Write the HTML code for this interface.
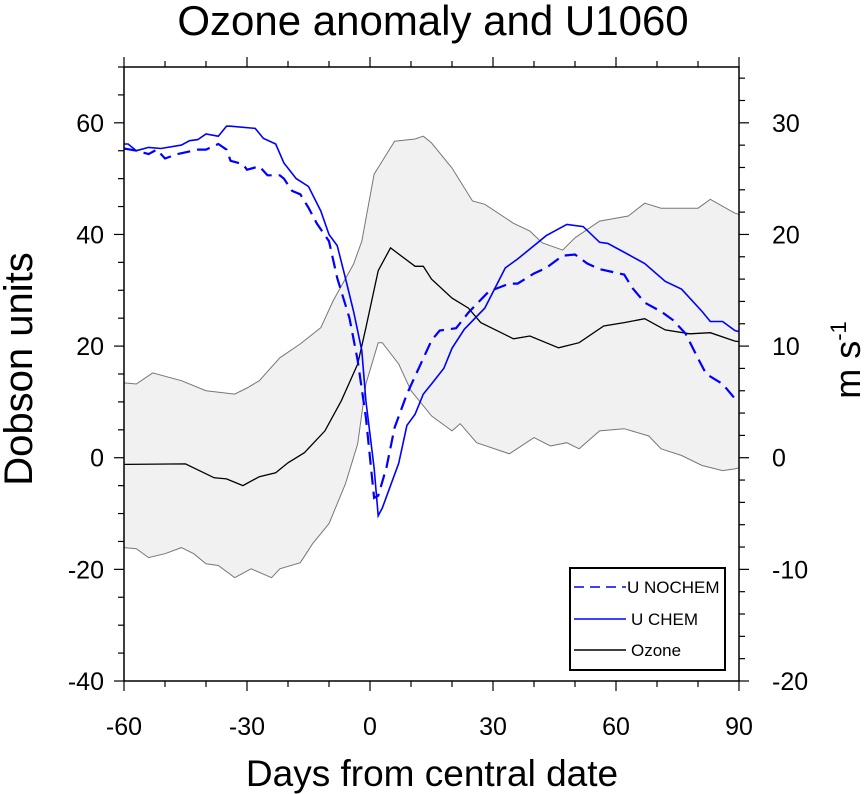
<!DOCTYPE html>
<html><head><meta charset="utf-8">
<style>
html,body{margin:0;padding:0;background:#fff;}
svg{display:block;font-family:"Liberation Sans",Arial,sans-serif;}
</style></head>
<body>
<svg id="chart" width="865" height="794" viewBox="0 0 865 794" xmlns="http://www.w3.org/2000/svg">
<text x="433" y="35" font-size="42" text-anchor="middle">Ozone anomaly and U1060</text>
<text x="432" y="786" font-size="37" text-anchor="middle">Days from central date</text>
<text transform="translate(32,369) rotate(-90)" font-size="40" text-anchor="middle">Dobson units</text>
<text transform="translate(860,360) rotate(-90)" font-size="36" text-anchor="middle">m s<tspan font-size="22" dy="-14">-1</tspan></text>
<g id="plot"></g>
</svg>
<script>
const ozoneDays=[-60,-45,-38,-35,-31,-27,-23,-20,-16,-11,-7,-3,-1,2,5,11,13,15,20,24,27,35,39,46,51,57,62,67,72,78,83,89,90];
const ozoneVals=[-1.2,-1.1,-3.6,-3.8,-5.0,-3.4,-2.7,-0.9,0.9,4.8,10.2,16.8,23.3,33.5,37.6,34.3,34.3,32.0,28.6,26.8,24.2,21.3,21.8,19.7,20.6,23.6,24.2,24.9,22.9,22.2,22.4,20.9,20.8];
const upperDays=[-60,-57,-53,-46,-40,-33,-30,-27,-22,-17,-12,-9,-4,-2,1,6,11,13,15,20,25,28,35,39,42,47,50,56,63,67,71,76,80,83,89,90];
const upperVals=[13.4,13.2,15.2,13.8,12.0,11.4,12.5,13.8,17.9,20.4,23.3,28.1,34.7,38.8,50.8,56.7,57.1,57.6,56.4,51.9,46.0,45.4,42.0,40.6,38.5,37.2,39.4,42.4,43.3,45.6,44.7,44.7,44.7,46.3,43.8,43.6];
const lowerDays=[-60,-57,-54,-50,-46,-43,-40,-37,-33,-29,-24,-22,-17,-14,-10,-6,-3,-1,2,3,7,10,14,15,20,22,26,34,40,44,48,51,56,62,68,71,76,81,86,89,90];
const lowerVals=[-16.1,-16.3,-17.9,-17.2,-16.1,-17.2,-19.0,-19.3,-21.5,-19.9,-21.5,-19.9,-18.8,-15.4,-11.8,-4.7,2.5,13.2,20.6,20.6,16.8,12.0,8.4,7.5,4.8,6.1,2.7,0.7,3.6,2.1,2.7,1.6,4.8,5.2,3.9,1.6,0.4,-1.4,-2.3,-2.0,-1.8];
const chemDays=[-60,-59,-57,-54,-51,-46,-44,-42,-40,-37,-35,-34,-28,-26,-23,-21,-18,-15,-12,-10,-8,-6,-4,-2,-1,1,2,3,7,9,11,13,15,18,20,23,28,33,36,39,43,48,52,56,58,63,67,72,76,81,83,86,89,90];
const chemVals=[28.1,28.1,27.5,27.8,27.7,28.0,28.4,28.5,29.0,28.8,29.7,29.7,29.5,28.6,28.1,26.4,25.0,24.3,22.1,20.0,19.0,16.1,13.1,9.6,5.1,-0.9,-5.2,-4.5,-0.5,2.9,3.9,5.7,6.6,8.0,9.8,11.5,13.4,17.0,17.8,18.7,19.9,20.9,20.7,19.3,19.2,18.2,17.4,15.8,15.1,13.1,12.2,12.2,11.4,11.3];
const nochemDays=[-60,-57,-54,-52,-50,-47,-42,-40,-37,-35,-34,-31,-30,-27,-25,-22,-21,-19,-17,-15,-13,-10,-8,-5,-3,-1,1,2,4,6,9,12,15,17,21,24,29,34,36,40,43,47,50,53,56,62,64,67,71,74,77,80,82,86,89,90];
const nochemVals=[27.7,27.5,27.2,27.6,26.8,27.2,27.6,27.6,28.1,27.6,26.6,26.3,25.8,26.1,25.3,25.3,25.0,23.9,23.6,22.4,21.0,19.4,16.1,12.5,8.7,3.6,-3.6,-3.4,-0.9,2.7,5.7,8.1,10.5,11.4,11.6,13.0,14.9,15.6,15.6,16.5,17.0,18.1,18.2,17.4,16.9,16.4,15.2,13.9,13.1,12.3,11.1,8.9,7.5,6.6,5.3,5.1];
const xTicks=[-60,-30,0,30,60,90];
const yLeftTicks=[-40,-20,0,20,40,60];
const yRightTicks=[-20,-10,0,10,20,30];

const X0=124,X1=739,Y0=681,Y1=67;
const sx=d=>X0+(d+60)/150*(X1-X0);
const sy=v=>Y0-(v+40)/110*(Y0-Y1);
const sr=v=>sy(v*2);
const NS="http://www.w3.org/2000/svg";
const plot=document.getElementById('plot');
function mk(tag,attrs,parent){const e=document.createElementNS(NS,tag);for(const k in attrs)e.setAttribute(k,attrs[k]);(parent||plot).appendChild(e);return e;}
function pts(ds,vs,f){return ds.map((d,i)=>sx(d).toFixed(1)+','+f(vs[i]).toFixed(1));}

const up=pts(upperDays,upperVals,sy), lo=pts(lowerDays,lowerVals,sy).reverse();
const band=mk('polygon',{points:up.concat(lo).join(' '),fill:'#f1f1f1',stroke:'none'});


const ub=mk('polyline',{points:up.join(' '),fill:'none',stroke:'#777',"stroke-width":1});


const lb=mk('polyline',{points:pts(lowerDays,lowerVals,sy).join(' '),fill:'none',stroke:'#777',"stroke-width":1});


const oz=mk('polyline',{points:pts(ozoneDays,ozoneVals,sy).join(' '),fill:'none',stroke:'#000',"stroke-width":1.3});


const ch=mk('polyline',{points:pts(chemDays,chemVals,sr).join(' '),fill:'none',stroke:'#0000ff',"stroke-width":1.6});


const nc=mk('polyline',{points:pts(nochemDays,nochemVals,sr).join(' '),fill:'none',stroke:'#0000ff',"stroke-width":2.2,"stroke-dasharray":"13,7"});



const fr=mk('rect',{x:X0,y:Y1,width:X1-X0,height:Y0-Y1,fill:'none',stroke:'#000',"stroke-width":1.5});



const tg=mk('g',{stroke:'#000',"stroke-width":1.2});


for(let d=-60;d<=90;d+=10){const L=(d%30===0)?10:6;const x=sx(d);
 mk('line',{x1:x,y1:Y0,x2:x,y2:Y0+L},tg);mk('line',{x1:x,y1:Y1,x2:x,y2:Y1-L},tg);}
for(let v=-40;v<=70;v+=5){const L=(v%20===0)?10:6;const y=sy(v);mk('line',{x1:X0,y1:y,x2:X0-L,y2:y},tg);}
for(let v=-20;v<=35;v+=2){const L=(v%10===0)?10:6;const y=sr(v);mk('line',{x1:X1,y1:y,x2:X1+L,y2:y},tg);}

xTicks.forEach(d=>{const t=mk('text',{x:sx(d),y:735,"font-size":25,"text-anchor":"middle"});t.textContent=d;
 
 });
yLeftTicks.forEach(v=>{const t=mk('text',{x:104,y:sy(v)+9,"font-size":25,"text-anchor":"end"});t.textContent=v;
 
 });
yRightTicks.forEach(v=>{const t=mk('text',{x:772,y:sr(v)+9,"font-size":25,"text-anchor":"start"});t.textContent=v;
 
 });

const lg=mk('g',{});


mk('rect',{x:570,y:568,width:155,height:102,fill:'#fff',stroke:'#000',"stroke-width":2},lg);
const items=[["U NOCHEM","#0000ff","10,6",587,627],["U CHEM","#0000ff","",619,631],["Ozone","#000","",650,631]];
items.forEach(it=>{
 const g=mk('g',{},lg);
 
 
 const a={x1:574,y1:it[3],x2:626,y2:it[3],stroke:it[1],"stroke-width":1.5};
 if(it[2])a["stroke-dasharray"]=it[2];
 mk('line',a,g);
 const t=mk('text',{x:it[4],y:it[3]+6,"font-size":17},g);t.textContent=it[0];
});
</script>
</body></html>
